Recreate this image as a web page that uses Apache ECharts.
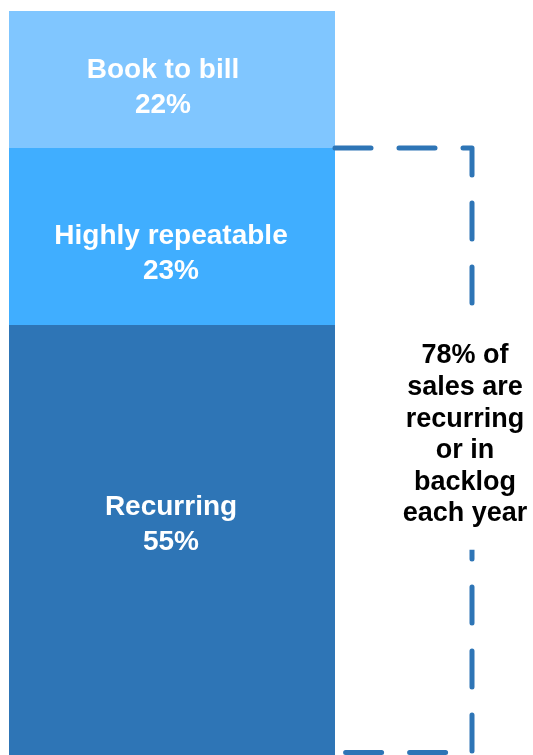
<!DOCTYPE html>
<html>
<head>
<meta charset="utf-8">
<style>
html,body{margin:0;padding:0;background:#fff;}
#chart{width:533px;height:755px;}
</style>
<script src="https://cdn.jsdelivr.net/npm/echarts@6/dist/echarts.min.js"></script>
</head>
<body>
<div id="chart"></div>
<script>
// Data (bottom to top)
const categories = ['Sales'];
const segmentNames = ['Recurring', 'Highly repeatable', 'Book to bill'];
const segmentShares = [57.8, 23.8, 18.4];   // visual share of bar height
const segmentLabels = ['55%', '23%', '22%']; // printed labels
const bracketTopValue = 81.6; // recurring + highly repeatable (top of bracket)
const noteLines = ['78% of', 'sales are', 'recurring', 'or in', 'backlog', 'each year'];

const colors = ['#2E75B6', '#40AEFF', '#80C6FF'];
const labelOffsets = [[-1, -15], [-1, 17], [-9, 8]];

const chart = echarts.init(document.getElementById('chart'), null, {renderer: 'canvas'});
const gridLeft = 9, gridRight = 198, gridTop = 11, gridBottom = 0;

const series = segmentNames.map((name, i) => ({
  name: name,
  type: 'bar',
  stack: 'total',
  barWidth: '100%',
  data: [segmentShares[i]],
  itemStyle: {color: colors[i]},
  label: {
    show: true,
    position: 'inside',
    offset: labelOffsets[i],
    formatter: () => name + '\n' + segmentLabels[i],
    color: '#ffffff',
    fontFamily: '"Liberation Sans", Arial, sans-serif',
    fontWeight: 'bold',
    fontSize: 28,
    lineHeight: 35
  },
  silent: true
}));

chart.setOption({
  animation: false,
  grid: {left: gridLeft, right: gridRight, top: gridTop, bottom: gridBottom, containLabel: false},
  xAxis: {type: 'category', data: categories, show: false, boundaryGap: true},
  yAxis: {type: 'value', min: 0, max: 100, show: false},
  series: series
});

function drawAnnotations() {
  const W = chart.getWidth();
  const xLeft = W - gridRight;
  const xRight = 472;
  const yTop = chart.convertToPixel({yAxisIndex: 0}, bracketTopValue);
  const yBottom = chart.convertToPixel({yAxisIndex: 0}, 0) - 2.5;
  chart.setOption({
    graphic: [
      {
        type: 'polyline',
        z: 10,
        shape: {points: [[xLeft, yTop], [xRight, yTop], [xRight, yBottom], [xLeft, yBottom]]},
        style: {
          stroke: '#2E75B6',
          lineWidth: 5,
          fill: null,
          lineDash: [36, 28],
          lineCap: 'round',
          lineJoin: 'round'
        },
        silent: true
      },
      {
        type: 'text',
        z: 20,
        x: 465,
        y: 435,
        style: {
          text: noteLines.join('\n'),
          font: 'bold 27px "Liberation Sans", Arial, sans-serif',
          fill: '#000000',
          textAlign: 'center',
          textVerticalAlign: 'middle',
          lineHeight: 31.6,
          backgroundColor: '#ffffff',
          padding: [16, 4, 24, 4]
        },
        silent: true
      }
    ]
  });
}
drawAnnotations();
</script>
</body>
</html>
